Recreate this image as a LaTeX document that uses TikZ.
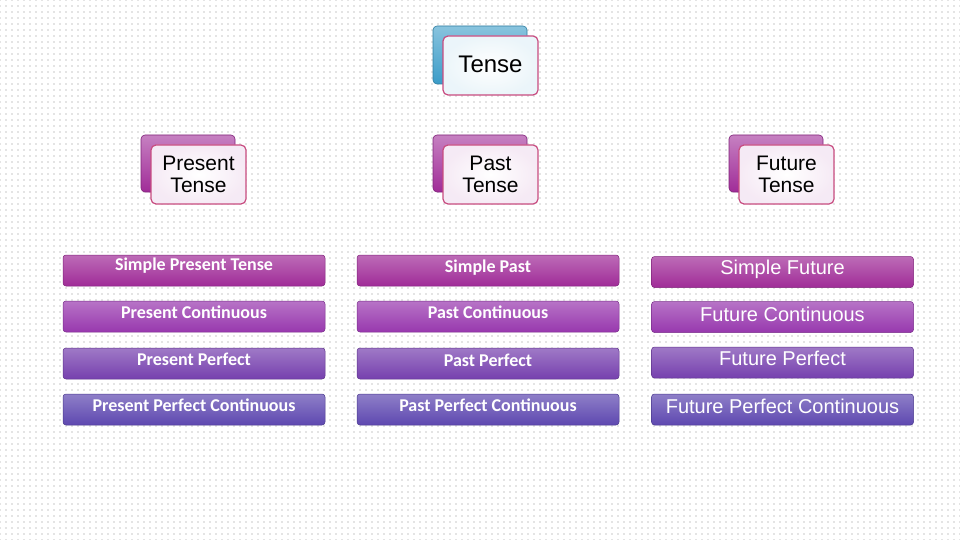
\documentclass[tikz,border=0pt]{standalone}
\usepackage{fontspec}
\setmainfont{Liberation Sans}
\newfontfamily\barfont{Carlito}
\usetikzlibrary{patterns.meta}
\definecolor{r1}{HTML}{A02C98}
\definecolor{r2}{HTML}{9838AE}
\definecolor{r3}{HTML}{7640AE}
\definecolor{r4}{HTML}{5E48B0}
\definecolor{bl}{HTML}{3A9CC8}
\definecolor{edge}{HTML}{C84C80}
\tikzset{
 back/.style={rounded corners=4pt, draw=#1!80!black, top color=#1!60, bottom color=#1, line width=0.6pt},
 front/.style={rounded corners=5pt, draw=edge, line width=1.2pt, fill=white, inner color=white, outer color=#1, align=center, font=\fontsize{21}{22}\selectfont, text=black},
 bar/.style={rounded corners=3pt, top color=#1!70!white, bottom color=#1, draw=#1!80!black, line width=0.5pt, minimum width=262pt, minimum height=31pt, text=white, inner sep=0pt},
 bt/.style={text=white, font=\barfont\bfseries\fontsize{18}{19}\selectfont},
 ct/.style={text=white, font=\fontsize{20}{21}\selectfont},
}
\begin{document}
\begin{tikzpicture}[x=1pt,y=-1pt]
\useasboundingbox (0,0) rectangle (960,540);
\fill[white] (0,0) rectangle (960,540);
\fill[pattern={Dots[distance=6pt,radius=0.6pt]}, pattern color=gray!90] (0,0) rectangle (960,540);
% top
\draw[back=bl] (433,26) rectangle (527,84);
\node[front=bl!10, minimum width=95pt, minimum height=59pt, font=\fontsize{24}{26}\selectfont] (tense) at (490.5,65.5) {\raisebox{2pt}{Tense}};
% level 2
\foreach \n/\bx/\t in {present/141/Present\\Tense, past/433/Past\\Tense, future/729/Future\\Tense}{
 \draw[back=r1] (\bx,135) rectangle ++(94,57);
 \node[front=r1!10, minimum width=95pt, minimum height=59pt] (\n) at (\bx+57.5,174.5) {\t};
}
% bars
\foreach \c/\x in {1/194,2/488}{
 \node[bar=r1] (b\c1) at (\x,270.5) {};
 \node[bar=r2] (b\c2) at (\x,316.5) {};
 \node[bar=r3] (b\c3) at (\x,363.5) {};
 \node[bar=r4] (b\c4) at (\x,409.5) {};
}
\node[bar=r1] (b31) at (782.5,272) {};
\node[bar=r2] (b32) at (782.5,317) {};
\node[bar=r3] (b33) at (782.5,362.5) {};
\node[bar=r4] (b34) at (782.5,409.5) {};
\node[bt] at ([yshift=5pt]b11.center) {Simple Present Tense};
\node[bt] at ([yshift=4pt]b12.center) {Present Continuous};
\node[bt] at ([yshift=4pt]b13.center) {Present Perfect};
\node[bt] at ([yshift=4pt]b14.center) {Present Perfect Continuous};
\node[bt] at ([yshift=3pt]b21.center) {Simple Past};
\node[bt] at ([yshift=4pt]b22.center) {Past Continuous};
\node[bt] at ([yshift=3pt]b23.center) {Past Perfect};
\node[bt] at ([yshift=4pt]b24.center) {Past Perfect Continuous};
\node[ct] at ([yshift=3pt]b31.center) {Simple Future};
\node[ct] at ([yshift=3pt]b32.center) {Future Continuous};
\node[ct] at ([yshift=4pt]b33.center) {Future Perfect};
\node[ct] at ([yshift=3pt]b34.center) {Future Perfect Continuous};
\end{tikzpicture}
\end{document}
